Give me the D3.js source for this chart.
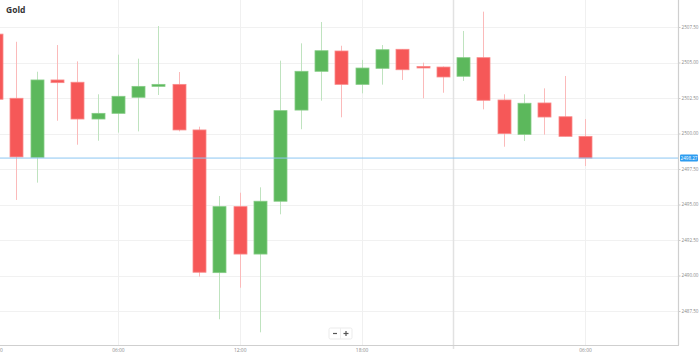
<!DOCTYPE html>
<html>
<head>
<meta charset="utf-8">
<script src="https://cdn.jsdelivr.net/npm/d3@7"></script>
<style>
  html, body { margin: 0; padding: 0; background: #fff; }
  svg { display: block; font-family: "Open Sans", "DejaVu Sans", sans-serif; }
</style>
</head>
<body>
<svg id="chart" width="699" height="355"></svg>
<script>
// ---- data ----
const title = "Gold";
const times = ["00:00","01:00","02:00","03:00","04:00","05:00","06:00","07:00","08:00","09:00",
  "10:00","11:00","12:00","13:00","14:00","15:00","16:00","17:00","18:00","19:00","20:00","21:00","22:00",
  "00:00","01:00","02:00","03:00","04:00","05:00","06:00"];
const opens  = [2507.00,2502.48,2498.32,2503.77,2503.61,2501.02,2501.42,2502.55,2503.32,2503.46,
  2500.25,2490.20,2494.85,2491.51,2495.23,2501.65,2504.38,2505.81,2503.46,2504.59,
  2505.93,2504.72,2504.68,2504.03,2505.34,2502.36,2499.94,2502.15,2501.18,2499.80];
const highs  = [2507.20,2506.46,2504.35,2506.23,2505.08,2502.76,2505.55,2505.27,2507.57,2504.33,
  2500.48,2495.60,2495.83,2496.21,2505.13,2506.35,2507.85,2506.18,2505.18,2506.23,
  2505.95,2504.99,2504.72,2507.22,2508.58,2502.76,2502.76,2503.18,2504.05,2501.02];
const lows   = [2501.80,2495.32,2496.54,2500.90,2499.21,2499.49,2500.06,2500.15,2502.71,2500.15,
  2489.92,2486.92,2489.14,2486.00,2494.31,2500.30,2502.31,2501.14,2502.83,2503.44,
  2503.77,2502.48,2502.87,2503.70,2501.70,2499.07,2499.47,2499.92,2499.80,2497.71];
const closes = [2502.41,2498.35,2503.77,2503.58,2501.02,2501.42,2502.62,2503.32,2503.46,2500.25,
  2490.23,2494.85,2491.51,2495.23,2501.61,2504.38,2505.83,2503.46,2504.61,2505.90,
  2504.49,2504.68,2503.98,2505.34,2502.34,2499.99,2502.13,2501.16,2499.80,2498.27];
const yTicks = [2487.5, 2490, 2492.5, 2495, 2497.5, 2500, 2502.5, 2505, 2507.5];
const xTickIndex = [0, 6, 12, 18, 29];
const dayBreakIndex = 22.5;
const currentPrice = 2498.27;

// ---- layout ----
const plotLeft = 0, plotRight = 678, plotTop = 0, plotBottom = 345;
const svg = d3.select("#chart");

const x = d3.scaleLinear().domain([0, 29]).range([-4, 585]);
const y = d3.scaleLinear().domain([2487.5, 2507.5]).range([311, 27]);

const upFill = "#5cb85c", upStroke = "#86cc86", upWick = "#bfe3bf";
const dnFill = "#f65858", dnStroke = "#f98a8a", dnWick = "#fbbaba";
const labelFont = 4.6;

// grid horizontal
svg.append("g").selectAll("line").data(yTicks).join("line")
  .attr("x1", plotLeft).attr("x2", plotRight)
  .attr("y1", d => Math.round(y(d)) + 0.5).attr("y2", d => Math.round(y(d)) + 0.5)
  .attr("stroke", "#f1f1f1").attr("stroke-width", 1);

// grid vertical
svg.append("g").selectAll("line").data(xTickIndex).join("line")
  .attr("x1", d => Math.round(x(d)) + 0.5).attr("x2", d => Math.round(x(d)) + 0.5)
  .attr("y1", plotTop).attr("y2", plotBottom)
  .attr("stroke", "#f0f0f0").attr("stroke-width", 1);

// day break line
svg.append("line")
  .attr("x1", Math.round(x(dayBreakIndex)) + 0.5).attr("x2", Math.round(x(dayBreakIndex)) + 0.5)
  .attr("y1", plotTop).attr("y2", plotBottom + 4)
  .attr("stroke", "#e2e2e2").attr("stroke-width", 1.5);

// title
svg.append("text").attr("x", 6).attr("y", 13)
  .attr("font-size", 8.5).attr("font-weight", "bold").attr("fill", "#333")
  .text(title);

// candles
const data = times.map((t, i) => ({ i, t, o: opens[i], h: highs[i], l: lows[i], c: closes[i] }));
const bw = 13;
const cg = svg.append("g");
cg.selectAll("line.wick").data(data).join("line")
  .attr("class", "wick")
  .attr("x1", d => Math.round(x(d.i)) + 0.5).attr("x2", d => Math.round(x(d.i)) + 0.5)
  .attr("y1", d => y(d.h)).attr("y2", d => y(d.l))
  .attr("stroke", d => d.c >= d.o ? upWick : dnWick).attr("stroke-width", 1);
cg.selectAll("rect.body").data(data).join("rect")
  .attr("class", "body")
  .attr("x", d => Math.round(x(d.i)) - (bw - 1) / 2)
  .attr("width", bw)
  .attr("y", d => y(Math.max(d.o, d.c)))
  .attr("height", d => Math.max(1.5, Math.abs(y(d.o) - y(d.c))))
  .attr("fill", d => d.c >= d.o ? upFill : dnFill)
  .attr("stroke", d => d.c >= d.o ? upStroke : dnStroke)
  .attr("stroke-width", 0.8);

// current price line
svg.append("line")
  .attr("x1", plotLeft).attr("x2", plotRight)
  .attr("y1", y(currentPrice)).attr("y2", y(currentPrice))
  .attr("stroke", "#8cc6f2").attr("stroke-width", 1);

// right axis
const yAxis = d3.axisRight(y).tickValues(yTicks).tickFormat(d3.format(".2f")).tickSize(2).tickPadding(1);
const ya = svg.append("g").attr("transform", `translate(${plotRight + 0.5},0)`).call(yAxis);
ya.select(".domain").remove();
ya.selectAll(".tick line").attr("stroke", "#ccc");
ya.selectAll(".tick text").attr("font-size", labelFont).attr("fill", "#888").attr("font-family", "\"Open Sans\", sans-serif");
svg.append("line").attr("x1", plotRight + 0.5).attr("x2", plotRight + 0.5)
  .attr("y1", 0).attr("y2", plotBottom).attr("stroke", "#cfcfcf").attr("stroke-width", 1.2);

// price label
const py = y(currentPrice);
svg.append("rect").attr("x", plotRight + 2).attr("y", py - 3.5).attr("width", 18).attr("height", 7)
  .attr("rx", 1).attr("fill", "#2d9cf0");
svg.append("text").attr("x", plotRight + 11).attr("y", py + 1.7)
  .attr("text-anchor", "middle").attr("font-size", labelFont).attr("fill", "#fff")
  .text(d3.format(".2f")(currentPrice));

// bottom axis
const xAxis = d3.axisBottom(x).tickValues(xTickIndex).tickFormat(i => times[i]).tickSize(0).tickPadding(4);
const xa = svg.append("g").attr("transform", `translate(0,${plotBottom})`).call(xAxis);
xa.select(".domain").remove();
xa.selectAll(".tick text").attr("font-size", 4.9).attr("fill", "#888").attr("font-family", "\"Open Sans\", sans-serif");
svg.append("line").attr("x1", 0).attr("x2", plotRight + 1).attr("y1", plotBottom + 0.5).attr("y2", plotBottom + 0.5)
  .attr("stroke", "#cfcfcf").attr("stroke-width", 1.2);

// zoom buttons
const zb = svg.append("g").attr("transform", "translate(329,328)");
zb.append("rect").attr("x", 0).attr("y", 0).attr("width", 23).attr("height", 11).attr("rx", 1.5)
  .attr("fill", "#fff").attr("stroke", "#e6e6e6").attr("stroke-width", 0.8);
zb.append("line").attr("x1", 11.5).attr("x2", 11.5).attr("y1", 0).attr("y2", 11).attr("stroke", "#eee");
zb.append("line").attr("x1", 4).attr("x2", 8).attr("y1", 5.5).attr("y2", 5.5).attr("stroke", "#555").attr("stroke-width", 1.2);
zb.append("line").attr("x1", 14.5).attr("x2", 19.5).attr("y1", 5.5).attr("y2", 5.5).attr("stroke", "#555").attr("stroke-width", 1.2);
zb.append("line").attr("x1", 17).attr("x2", 17).attr("y1", 3).attr("y2", 8).attr("stroke", "#555").attr("stroke-width", 1.2);
</script>
</body>
</html>
